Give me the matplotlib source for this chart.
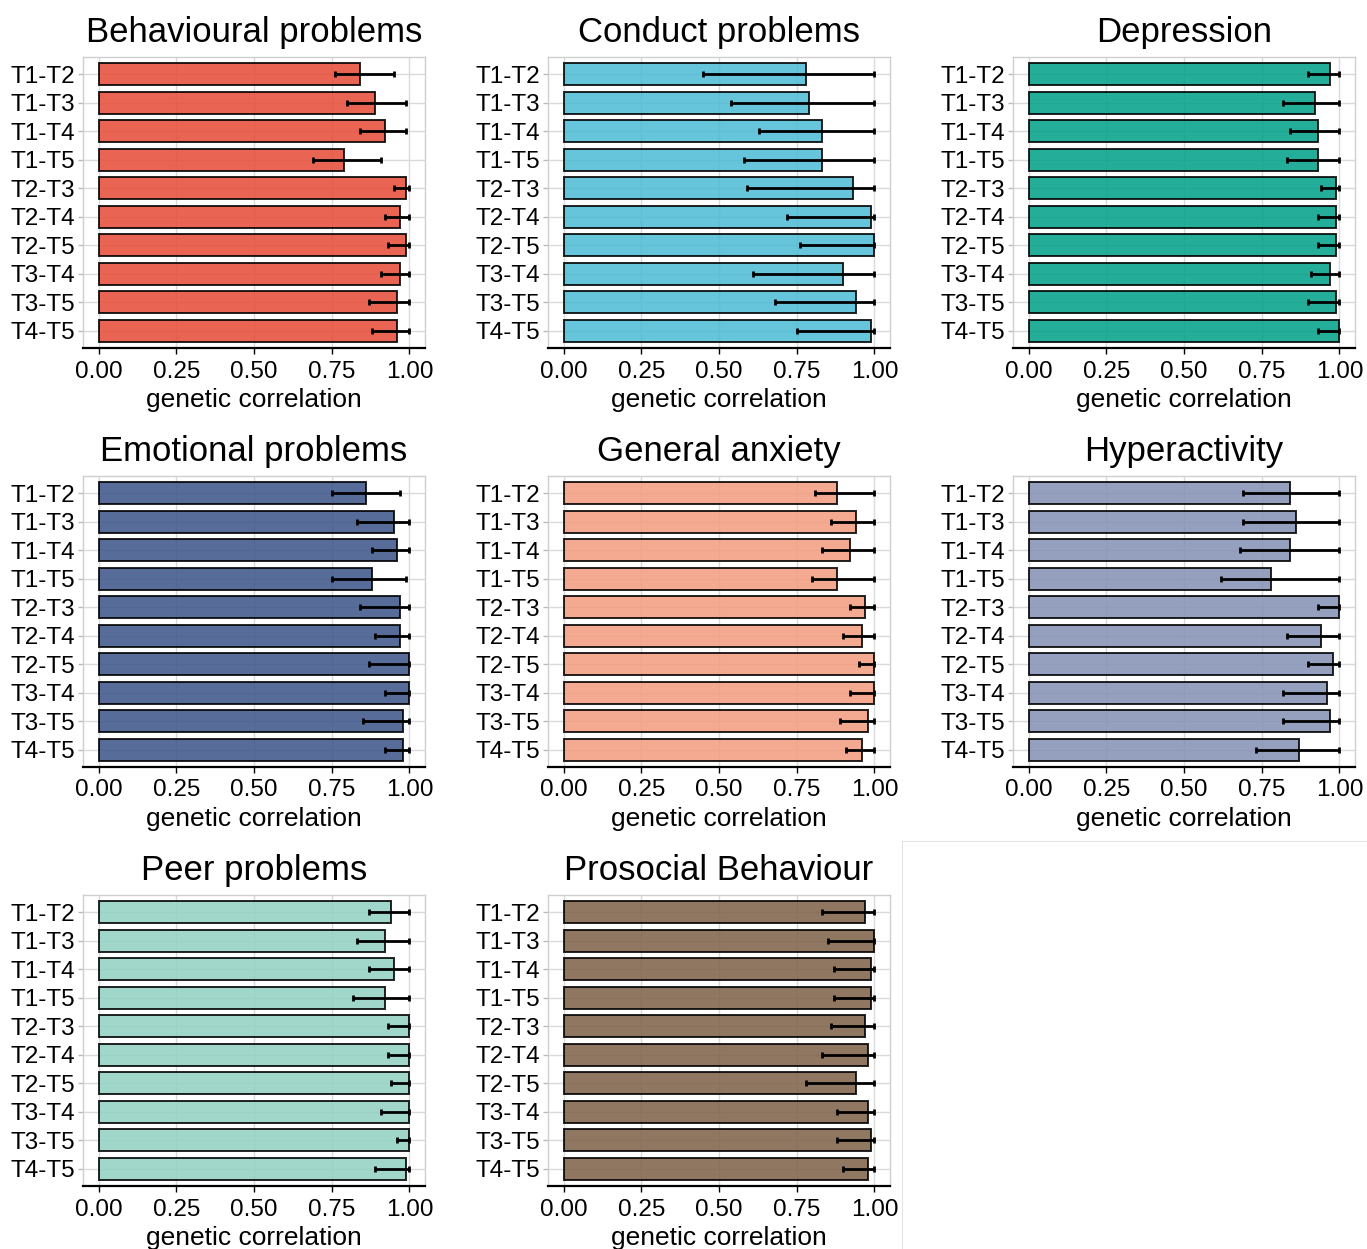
"""Genetic correlations across time points, one panel per SDQ trait."""

import matplotlib

matplotlib.use("Agg")
import matplotlib.pyplot as plt
import numpy as np

matplotlib.rcParams.update(
    {
        "font.family": ["Liberation Sans", "DejaVu Sans"],
        "font.size": 17.5,
        "axes.titlesize": 25,
        "axes.labelsize": 19,
    }
)

PAIRS = ["T1-T2", "T1-T3", "T1-T4", "T1-T5", "T2-T3",
         "T2-T4", "T2-T5", "T3-T4", "T3-T5", "T4-T5"]

TITLES = ["Behavioural problems", "Conduct problems", "Depression",
          "Emotional problems", "General anxiety", "Hyperactivity",
          "Peer problems", "Prosocial Behaviour"]
COLORS = ["#E64B35", "#4DBBD5", "#00A087", "#3C5488",
          "#F39B7F", "#8491B4", "#91D1C2", "#7E6148"]

BEHAV_RG = [0.84, 0.89, 0.92, 0.79, 0.99, 0.97, 0.99, 0.97, 0.96, 0.96]
BEHAV_LO = [0.76, 0.80, 0.84, 0.69, 0.95, 0.92, 0.93, 0.91, 0.87, 0.88]
BEHAV_HI = [0.95, 0.99, 0.99, 0.91, 1.00, 1.00, 1.00, 1.00, 1.00, 1.00]

CONDUCT_RG = [0.78, 0.79, 0.83, 0.83, 0.93, 0.99, 1.00, 0.90, 0.94, 0.99]
CONDUCT_LO = [0.45, 0.54, 0.63, 0.58, 0.59, 0.72, 0.76, 0.61, 0.68, 0.75]
CONDUCT_HI = [1.00, 1.00, 1.00, 1.00, 1.00, 1.00, 1.00, 1.00, 1.00, 1.00]

DEPR_RG = [0.97, 0.92, 0.93, 0.93, 0.99, 0.99, 0.99, 0.97, 0.99, 1.00]
DEPR_LO = [0.90, 0.82, 0.84, 0.83, 0.94, 0.93, 0.93, 0.91, 0.90, 0.93]
DEPR_HI = [1.00, 1.00, 1.00, 1.00, 1.00, 1.00, 1.00, 1.00, 1.00, 1.00]

EMOT_RG = [0.86, 0.95, 0.96, 0.88, 0.97, 0.97, 1.00, 1.00, 0.98, 0.98]
EMOT_LO = [0.75, 0.83, 0.88, 0.75, 0.84, 0.89, 0.87, 0.92, 0.85, 0.92]
EMOT_HI = [0.97, 1.00, 1.00, 0.99, 1.00, 1.00, 1.00, 1.00, 1.00, 1.00]

ANX_RG = [0.88, 0.94, 0.92, 0.88, 0.97, 0.96, 1.00, 1.00, 0.98, 0.96]
ANX_LO = [0.81, 0.86, 0.83, 0.80, 0.92, 0.90, 0.95, 0.92, 0.89, 0.91]
ANX_HI = [1.00, 1.00, 1.00, 1.00, 1.00, 1.00, 1.00, 1.00, 1.00, 1.00]

HYPER_RG = [0.84, 0.86, 0.84, 0.78, 1.00, 0.94, 0.98, 0.96, 0.97, 0.87]
HYPER_LO = [0.69, 0.69, 0.68, 0.62, 0.93, 0.83, 0.90, 0.82, 0.82, 0.73]
HYPER_HI = [1.00, 1.00, 1.00, 1.00, 1.00, 1.00, 1.00, 1.00, 1.00, 1.00]

PEER_RG = [0.94, 0.92, 0.95, 0.92, 1.00, 1.00, 1.00, 1.00, 1.00, 0.99]
PEER_LO = [0.87, 0.83, 0.87, 0.82, 0.93, 0.93, 0.94, 0.91, 0.96, 0.89]
PEER_HI = [1.00, 1.00, 1.00, 1.00, 1.00, 1.00, 1.00, 1.00, 1.00, 1.00]

PROSOC_RG = [0.97, 1.00, 0.99, 0.99, 0.97, 0.98, 0.94, 0.98, 0.99, 0.98]
PROSOC_LO = [0.83, 0.85, 0.87, 0.87, 0.86, 0.83, 0.78, 0.88, 0.88, 0.90]
PROSOC_HI = [1.00, 1.00, 1.00, 1.00, 1.00, 1.00, 1.00, 1.00, 1.00, 1.00]

RG = [BEHAV_RG, CONDUCT_RG, DEPR_RG, EMOT_RG, ANX_RG, HYPER_RG, PEER_RG, PROSOC_RG]
LO = [BEHAV_LO, CONDUCT_LO, DEPR_LO, EMOT_LO, ANX_LO, HYPER_LO, PEER_LO, PROSOC_LO]
HI = [BEHAV_HI, CONDUCT_HI, DEPR_HI, EMOT_HI, ANX_HI, HYPER_HI, PEER_HI, PROSOC_HI]

W, H = 1367, 1249
LEFTS = [83, 548, 1013]
TOPS = [57, 476, 895]
PANEL_W, PANEL_H = 342, 291
GRID = "#DADADA"


def draw_panel(ax, title, color, rg, lo, hi):
    y = np.arange(len(PAIRS))
    rg = np.array(rg)
    ax.barh(y, rg, height=0.78, color=color, alpha=0.86,
            edgecolor="black", linewidth=1.4, zorder=2)
    ax.errorbar(rg, y, xerr=[rg - np.array(lo), np.array(hi) - rg],
                fmt="none", ecolor="black", elinewidth=2.0,
                capsize=2.0, capthick=2.0, zorder=3)
    ax.set_yticks(y)
    ax.set_yticklabels(PAIRS)
    ax.set_ylim(len(PAIRS) - 0.4, -0.6)
    ax.set_xlim(-0.05, 1.05)
    ax.set_xticks([0, 0.25, 0.5, 0.75, 1.0])
    ax.set_xticklabels(["0.00", "0.25", "0.50", "0.75", "1.00"])
    ax.set_xlabel("genetic correlation", labelpad=4)
    ax.set_title(title, pad=11)
    ax.grid(True, color=GRID, linewidth=1.0, zorder=0)
    ax.set_axisbelow(True)
    for side in ("top", "right", "left"):
        ax.spines[side].set_color("#CFCFCF")
        ax.spines[side].set_linewidth(1.0)
    ax.spines["bottom"].set_color("black")
    ax.spines["bottom"].set_linewidth(1.6)
    ax.tick_params(axis="x", length=4, width=1.0, color="black", pad=5)
    ax.tick_params(axis="y", length=3.5, width=1.0, color="#BBBBBB", pad=2.5)


fig = plt.figure(figsize=(W / 100, H / 100), dpi=100)
for i, title in enumerate(TITLES):
    r, c = divmod(i, 3)
    rect = [LEFTS[c] / W, 1 - (TOPS[r] + PANEL_H) / H, PANEL_W / W, PANEL_H / H]
    ax = fig.add_axes(rect)
    draw_panel(ax, title, COLORS[i], RG[i], LO[i], HI[i])

# empty ninth slot, only its border shows
blank = fig.add_axes([902 / W, 0, (W - 902) / W, 1 - 841 / H])
blank.set_xticks([])
blank.set_yticks([])
for side in ("bottom", "right"):
    blank.spines[side].set_visible(False)
for side in ("top", "left"):
    blank.spines[side].set_color("#E3E3E3")

fig.savefig("out.png", dpi=100)
